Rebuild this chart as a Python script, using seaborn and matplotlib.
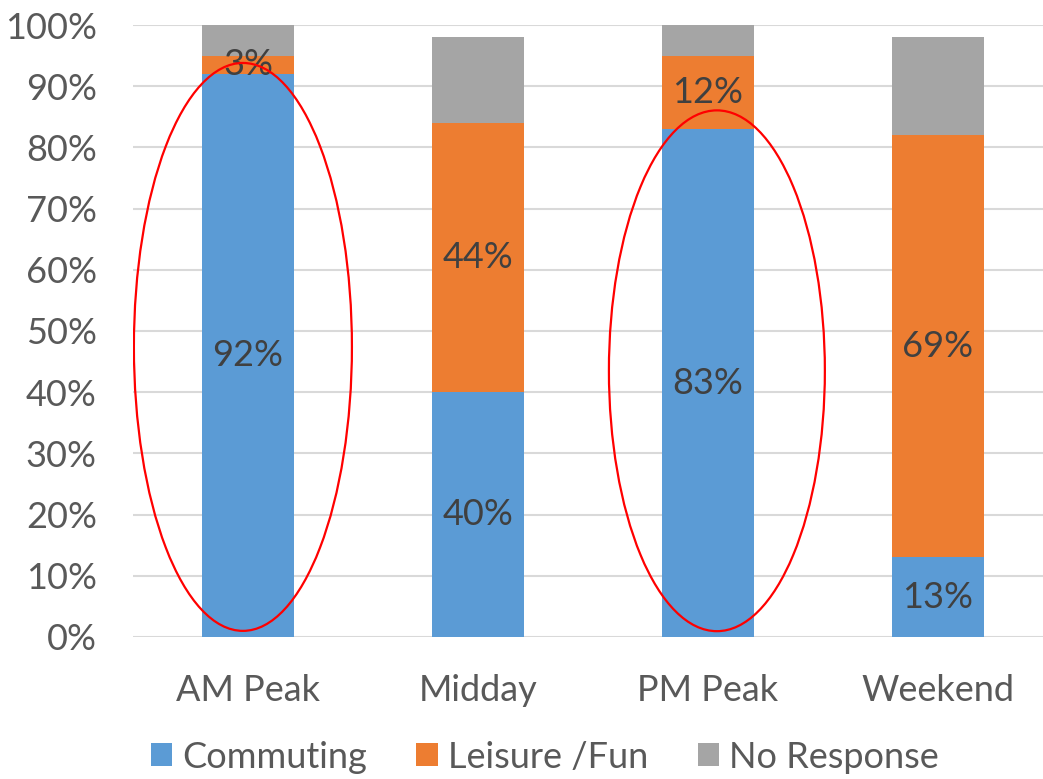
import matplotlib
matplotlib.use("Agg")
import matplotlib.pyplot as plt
from matplotlib.patches import Ellipse, Patch
import numpy as np
import pandas as pd
import seaborn as sns

# Trip purpose share by time period (percent)
periods = ["AM Peak", "Midday", "PM Peak", "Weekend"]
commuting = [92, 40, 83, 13]
leisure = [3, 44, 12, 69]
no_response = [5, 14, 5, 16]

series_names = ["Commuting", "Leisure /Fun", "No Response"]
series_colors = ["#5B9BD5", "#ED7D31", "#A5A5A5"]
y_ticks = [0, 10, 20, 30, 40, 50, 60, 70, 80, 90, 100]

sns.set_theme(style="white")
plt.rcParams["font.family"] = ["Lato", "DejaVu Sans"]

fig = plt.figure(figsize=(10.43, 7.79), dpi=100)
ax = fig.add_axes([0.1275, 0.1823, 0.8725, 0.7856])

df = pd.DataFrame({
    "period": periods,
    "Commuting": commuting,
    "Leisure /Fun": leisure,
    "No Response": no_response,
})

bottom = np.zeros(len(periods))
containers = []
for name, color in zip(series_names, series_colors):
    sns.barplot(data=df, x="period", y=name, bottom=bottom, color=color,
                width=0.4, linewidth=0, saturation=1, ax=ax, zorder=3)
    containers.append(ax.containers[-1])
    bottom = bottom + df[name].to_numpy()

# Value labels on the commuting and leisure segments
label_color = "#404040"
for cont, vals in zip(containers[:2], [commuting, leisure]):
    ax.bar_label(cont, labels=[f"{v}%" for v in vals], label_type="center",
                 fontsize=26, color=label_color, zorder=5)

# Highlight rings around the peak periods
ax.add_patch(Ellipse((-0.022, 47.4), 0.948, 92.8, fill=False,
                     edgecolor="#FF0000", linewidth=1.6, zorder=6))
ax.add_patch(Ellipse((2.039, 43.5), 0.939, 85.1, fill=False,
                     edgecolor="#FF0000", linewidth=1.6, zorder=6))

ax.set_xlim(-0.5, 3.457)
ax.set_ylim(0, 100)
ax.set_yticks(y_ticks)
ax.set_yticklabels([f"{t}%" for t in y_ticks])
ax.yaxis.grid(True, color="#D9D9D9", linewidth=1.5, zorder=0)
ax.set_axisbelow(True)
for side in ["top", "right", "left", "bottom"]:
    ax.spines[side].set_visible(False)
ax.tick_params(axis="y", length=0, pad=26, labelsize=26, labelcolor="#595959")
ax.tick_params(axis="x", length=0, pad=27, labelsize=26, labelcolor="#595959")
ax.set_xlabel("")
ax.set_ylabel("")

handles = [Patch(facecolor=c, edgecolor="none") for c in series_colors]
fig.legend(handles, series_names, loc="center", bbox_to_anchor=(0.5225, 0.028),
           ncol=3, frameon=False, fontsize=26, labelcolor="#595959",
           handlelength=0.6, handleheight=0.6, handletextpad=0.28,
           columnspacing=1.36, borderaxespad=0)

fig.savefig("out.png", dpi=100)
